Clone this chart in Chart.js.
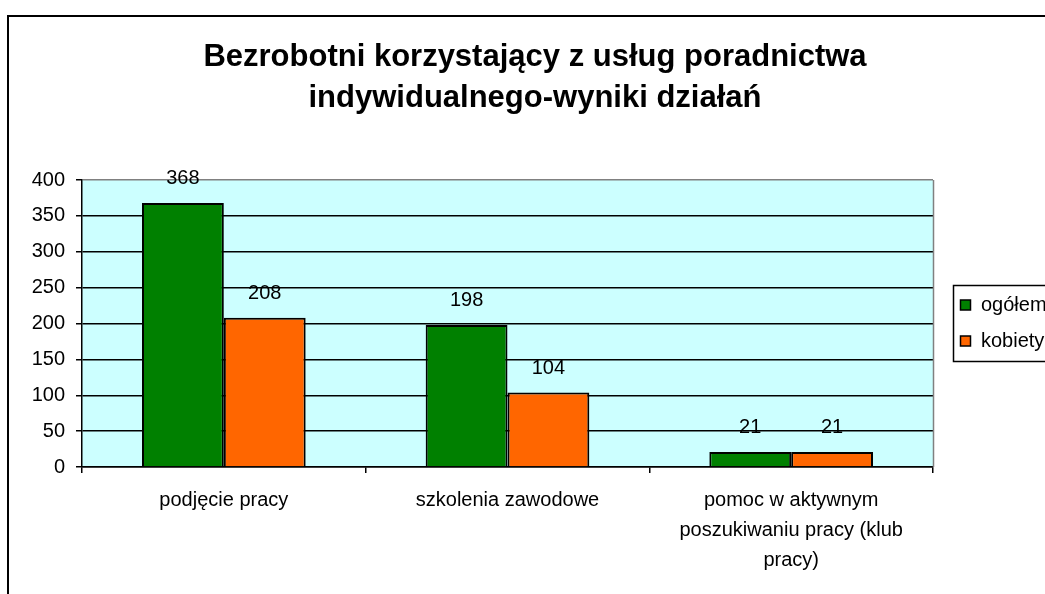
<!DOCTYPE html>
<html>
<head>
<meta charset="utf-8">
<script src="https://cdn.jsdelivr.net/npm/chart.js@4/dist/chart.umd.min.js"></script>
<style>
  body { margin: 0; overflow: hidden; background: #ffffff; }
  canvas { display: block; }
</style>
</head>
<body>
<canvas id="bar-chart" width="1070" height="594"></canvas>
<script>
const kategorie = [
    "podjęcie pracy",
    "szkolenia zawodowe",
    ["pomoc w aktywnym", "poszukiwaniu pracy (klub", "pracy)"]
];
const ogolem = [368, 198, 21];
const kobiety = [208, 104, 21];
const nazwySerii = ["ogółem", "kobiety"];
const kolory = ["#008000", "#FF6600"];
const tytul = ["Bezrobotni korzystający z usług poradnictwa", "indywidualnego-wyniki działań"];

const czcionka = "'Liberation Sans', Arial, sans-serif";

// tlo obszaru wykresu + ramki
const tloWykresu = {
    id: "tloWykresu",
    beforeDraw(chart) {
        const ctx = chart.ctx;
        const a = chart.chartArea;
        ctx.save();
        ctx.fillStyle = "#ffffff";
        ctx.fillRect(0, 0, chart.width, chart.height);
        ctx.fillStyle = "#CCFFFF";
        ctx.fillRect(a.left, a.top, a.right - a.left, a.bottom - a.top);
        // ramka calego wykresu
        ctx.strokeStyle = "#000000";
        ctx.lineWidth = 2;
        ctx.strokeRect(8, 16, chart.width + 50, chart.height + 50);
        ctx.restore();
    },
    afterDraw(chart) {
        const ctx = chart.ctx;
        const a = chart.chartArea;
        ctx.save();
        ctx.strokeStyle = "#808080";
        ctx.lineWidth = 1.5;
        ctx.beginPath();
        ctx.moveTo(Math.round(a.right) + 0.5, a.top);
        ctx.lineTo(Math.round(a.right) + 0.5, a.bottom);
        ctx.stroke();

        // legenda
        const lx = Math.round(a.right) + 20;
        const ly = 285;
        ctx.strokeStyle = "#000000";
        ctx.lineWidth = 1.5;
        ctx.strokeRect(lx + 0.5, ly + 0.5, 200, 76);
        ctx.font = "20px " + czcionka;
        ctx.textBaseline = "middle";
        ctx.textAlign = "left";
        chart.data.datasets.forEach((ds, i) => {
            const y = ly + 20 + i * 36;
            ctx.fillStyle = ds.backgroundColor;
            ctx.fillRect(lx + 7.5, y - 5, 10, 10);
            ctx.lineWidth = 1.5;
            ctx.strokeRect(lx + 7.5, y - 5, 10, 10);
            ctx.fillStyle = "#000000";
            ctx.fillText(ds.label, lx + 28, y);
        });
        ctx.restore();
    },
    afterDatasetsDraw(chart) {
        const ctx = chart.ctx;
        ctx.save();
        ctx.font = "20px " + czcionka;
        ctx.fillStyle = "#000000";
        ctx.textAlign = "center";
        ctx.textBaseline = "middle";
        chart.data.datasets.forEach((ds, i) => {
            chart.getDatasetMeta(i).data.forEach((bar, j) => {
                ctx.fillText(ds.data[j], bar.x, bar.y - 24);
            });
        });
        ctx.restore();
    }
};

var ctx1 = document.getElementById("bar-chart");

var wykres = new Chart(ctx1, {
    type: "bar",
    data: {
        labels: kategorie,
        datasets: [{
            label: nazwySerii[0],
            data: ogolem,
            backgroundColor: kolory[0],
            borderColor: "#000000",
            borderWidth: 2
        }, {
            label: nazwySerii[1],
            data: kobiety,
            backgroundColor: kolory[1],
            borderColor: "#000000",
            borderWidth: 2
        }]
    },
    options: {
        responsive: false,
        animation: false,
        categoryPercentage: 0.577,
        barPercentage: 1,
        layout: { padding: 0 },
        plugins: {
            legend: { display: false },
            tooltip: { enabled: false },
            title: {
                display: true,
                text: tytul,
                color: "#000000",
                font: { family: czcionka, size: 31, weight: "bold", lineHeight: "41px" },
                padding: { top: 37, bottom: 61 }
            }
        },
        scales: {
            x: {
                grid: {
                    offset: true,
                    drawOnChartArea: false,
                    color: "#000000",
                    lineWidth: 1.5,
                    tickLength: 6
                },
                border: { color: "#000000", width: 1.5 },
                ticks: {
                    color: "#000000",
                    font: { family: czcionka, size: 20, lineHeight: "30px" },
                    padding: 12,
                    maxRotation: 0,
                    autoSkip: false
                },
                afterFit(s) { s.height = 127; }
            },
            y: {
                min: 0,
                max: 400,
                grid: {
                    color: (c) => c.tick && c.tick.value === 400 ? "#808080" : "#000000",
                    tickColor: "#000000",
                    lineWidth: 1.5,
                    tickLength: 6
                },
                border: { color: "#000000", width: 1.5 },
                ticks: {
                    stepSize: 50,
                    color: "#000000",
                    font: { family: czcionka, size: 20 },
                    padding: 11
                },
                afterFit(s) { s.width = 82; }
            },
            miejsceLegendy: {
                type: "linear",
                position: "right",
                grid: { display: false },
                border: { display: false },
                ticks: { display: false },
                afterFit(s) { s.width = 137; }
            }
        }
    },
    plugins: [tloWykresu]
});
</script>
</body>
</html>
